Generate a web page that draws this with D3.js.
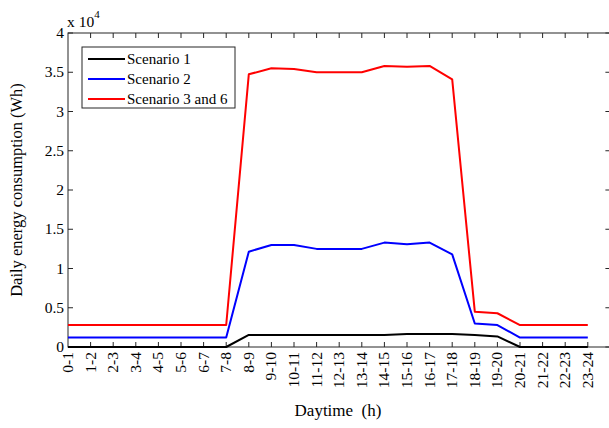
<!DOCTYPE html>
<html>
<head>
<meta charset="utf-8">
<script src="https://cdn.jsdelivr.net/npm/d3@7"></script>
<style>
  body { margin: 0; background: #fff; }
  svg text { font-family: 'Liberation Serif', 'DejaVu Serif', 'Times New Roman', Times, serif; }
</style>
</head>
<body>
<svg id="chart" width="609" height="428"></svg>
<script>
// hour slots on the x axis
const slots = ["0-1","1-2","2-3","3-4","4-5","5-6","6-7","7-8","8-9","9-10","10-11","11-12",
  "12-13","13-14","14-15","15-16","16-17","17-18","18-19","19-20","20-21","21-22","22-23","23-24"];

// daily energy consumption in Wh
const scenario1 = [0,0,0,0,0,0,0,0,1530,1530,1530,1530,1530,1530,1530,1650,1650,1650,1530,1350,0,0,0,0];
const scenario2 = [1200,1200,1200,1200,1200,1200,1200,1200,12140,13000,13000,12500,12500,12500,13300,13100,13300,11800,3000,2800,1200,1200,1200,1200];
const scenario36 = [2800,2800,2800,2800,2800,2800,2800,2800,34740,35500,35400,35000,35000,35000,35800,35700,35800,34100,4500,4300,2800,2800,2800,2800];

const yTicks = [0, 0.5, 1, 1.5, 2, 2.5, 3, 3.5, 4];

const series = [
  { name: "Scenario 1", values: scenario1, color: "#000000" },
  { name: "Scenario 2", values: scenario2, color: "#0000ff" },
  { name: "Scenario 3 and 6", values: scenario36, color: "#ff0000" }
];

const FONT = "Liberation Serif";
const svg = d3.select("#chart").attr("font-family", FONT);
const mLeft = 68, mTop = 33, mBottom = 347;

// x runs 0..24, right frame edge falls just outside the picture
const x = d3.scaleLinear().domain([0, 24]).range([mLeft, mLeft + 24 * 22.6]);
const y = d3.scaleLinear().domain([0, 40000]).range([mBottom, mTop]);
const axisColor = "#262626";

// frame
svg.append("rect")
  .attr("x", mLeft).attr("y", mTop)
  .attr("width", x(24) - mLeft).attr("height", mBottom - mTop)
  .attr("fill", "none").attr("stroke", axisColor).attr("stroke-width", 1);

// x ticks (inward, top and bottom)
const xt = svg.append("g");
d3.range(1, 24).forEach(i => {
  xt.append("line").attr("x1", x(i)).attr("x2", x(i)).attr("y1", mBottom).attr("y2", mBottom - 5)
    .attr("stroke", axisColor);
  xt.append("line").attr("x1", x(i)).attr("x2", x(i)).attr("y1", mTop).attr("y2", mTop + 5)
    .attr("stroke", axisColor);
});

// x tick labels, rotated
svg.append("g").selectAll("text").data(slots).join("text")
  .attr("transform", (d, i) => `translate(${x(i) + 5},${mBottom + 5}) rotate(-90)`)
  .attr("text-anchor", "end")
  .attr("font-family", FONT)
  .attr("font-size", 15.5)
  .attr("fill", "#000")
  .text(d => d);

// y ticks and labels
const yt = svg.append("g");
yTicks.forEach(t => {
  const yy = y(t * 10000);
  yt.append("line").attr("x1", mLeft).attr("x2", mLeft + 5).attr("y1", yy).attr("y2", yy).attr("stroke", axisColor);
  yt.append("line").attr("x1", x(24)).attr("x2", x(24) - 5).attr("y1", yy).attr("y2", yy).attr("stroke", axisColor);
  yt.append("text").attr("x", mLeft - 4).attr("y", yy + 5)
    .attr("text-anchor", "end").attr("font-family", FONT).attr("font-size", 15.5).text(t);
});

// exponent
const ex = svg.append("text").attr("x", 67).attr("y", 27).attr("font-family", FONT).attr("font-size", 15.5);
ex.append("tspan").text("x 10");
ex.append("tspan").attr("dy", -9).attr("font-size", 11).text("4");

// lines
const line = d3.line().x((d, i) => x(i)).y(d => y(d));
svg.append("g").selectAll("path").data(series).join("path")
  .attr("d", d => line(d.values))
  .attr("fill", "none")
  .attr("stroke", d => d.color)
  .attr("stroke-width", 2)
  .attr("stroke-linejoin", "round");

// legend
const lg = svg.append("g");
lg.append("rect").attr("x", 82).attr("y", 47).attr("width", 153).attr("height", 61)
  .attr("fill", "#fff").attr("stroke", axisColor);
series.forEach((s, i) => {
  const ly = 59 + i * 20;
  lg.append("line").attr("x1", 88).attr("x2", 125).attr("y1", ly).attr("y2", ly)
    .attr("stroke", s.color).attr("stroke-width", 2);
  lg.append("text").attr("x", 127).attr("y", ly + 5).attr("font-family", FONT).attr("font-size", 15).text(s.name);
});

// axis titles
svg.append("text").attr("x", 338).attr("y", 416).attr("text-anchor", "middle")
  .attr("font-family", FONT).attr("font-size", 17).style("white-space", "pre").text("Daytime  (h)");
svg.append("text").attr("transform", `translate(22,${(mTop + mBottom) / 2}) rotate(-90)`)
  .attr("text-anchor", "middle").attr("font-family", FONT).attr("font-size", 16.5).text("Daily energy consumption (Wh)");
</script>
</body>
</html>
